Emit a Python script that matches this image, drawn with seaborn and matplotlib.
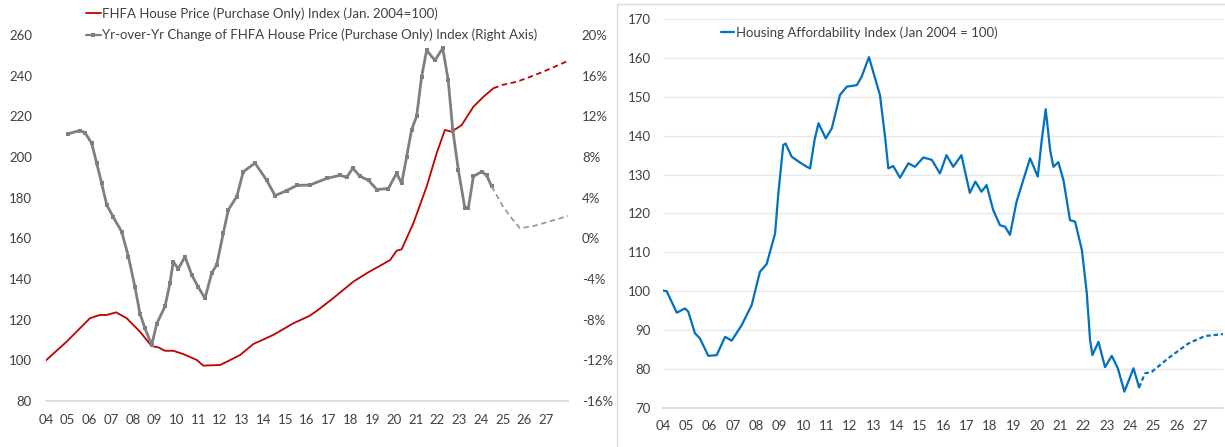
import matplotlib
matplotlib.use("Agg")
import matplotlib.pyplot as plt
import seaborn as sns
import pandas as pd
from matplotlib.lines import Line2D

# ---------------- data ----------------
hpi_year = [2004.0, 2004.95, 2006.02, 2006.48, 2006.79, 2007.22, 2007.71, 2008.32, 2008.86,
            2009.16, 2009.47, 2009.85, 2010.31, 2010.93, 2011.23, 2012.0, 2012.31, 2012.92,
            2013.53, 2014.45, 2015.37, 2016.1, 2016.45, 2017.21, 2018.13, 2018.74, 2019.82,
            2020.12, 2020.35, 2020.89, 2021.5, 2021.96, 2022.34, 2022.65, 2023.11, 2023.65,
            2024.11, 2024.57]
hpi_value = [100.0, 109.2, 120.7, 122.3, 122.3, 123.6, 120.7, 114.1, 107.0,
             106.4, 104.7, 104.7, 103.1, 100.2, 97.4, 97.7, 99.3, 102.6,
             108.0, 112.5, 118.2, 121.8, 124.3, 130.6, 138.7, 142.8, 149.3,
             153.9, 154.6, 167.4, 185.4, 201.8, 213.3, 212.4, 215.7, 224.7,
             229.6, 233.8]
hpi_fc_year = [2024.57, 2025.0, 2025.64, 2026.41, 2027.2, 2028.0]
hpi_fc_value = [233.8, 235.5, 237.0, 240.0, 243.5, 247.3]

yoy_year = [2005.03, 2005.56, 2005.79, 2006.10, 2006.33, 2006.56, 2006.79, 2007.09, 2007.48,
            2007.79, 2008.09, 2008.32, 2008.55, 2008.86, 2009.09, 2009.47, 2009.70, 2009.85,
            2010.08, 2010.39, 2010.70, 2011.0, 2011.31, 2011.62, 2011.85, 2012.15, 2012.38,
            2012.77, 2013.07, 2013.61, 2014.15, 2014.53, 2015.07, 2015.53, 2016.14, 2016.91,
            2017.52, 2017.83, 2018.1, 2018.44, 2018.83, 2019.21, 2019.74, 2020.12, 2020.35,
            2020.58, 2020.81, 2021.04, 2021.27, 2021.5, 2021.88, 2022.24, 2022.49, 2022.70,
            2022.96, 2023.26, 2023.42, 2023.65, 2024.03, 2024.26, 2024.49]
yoy_value = [10.3, 10.6, 10.4, 9.35, 7.4, 5.4, 3.3, 2.1, 0.65,
             -1.8, -4.8, -7.4, -8.85, -10.5, -8.4, -6.7, -4.4, -2.3,
             -3.0, -1.8, -3.6, -4.8, -5.9, -3.4, -2.6, 0.5, 2.8,
             4.1, 6.55, 7.4, 5.7, 4.2, 4.7, 5.2, 5.25, 5.9,
             6.2, 6.0, 6.9, 6.1, 5.7, 4.8, 4.9, 6.4, 5.4,
             8.0, 10.7, 12.0, 15.9, 18.5, 17.5, 18.7, 15.6, 10.7,
             6.7, 2.95, 3.0, 6.1, 6.55, 6.2, 5.1]
yoy_fc_year = [2024.49, 2025.02, 2025.4, 2025.79, 2026.41, 2027.2, 2028.0]
yoy_fc_value = [5.1, 3.1, 2.0, 1.0, 1.2, 1.7, 2.2]

aff_year = [2004.0, 2004.16, 2004.59, 2004.94, 2005.08, 2005.37, 2005.58, 2005.94, 2006.30,
            2006.66, 2006.94, 2007.37, 2007.80, 2008.15, 2008.44, 2008.80, 2008.94, 2009.15,
            2009.25, 2009.51, 2009.87, 2010.16, 2010.30, 2010.49, 2010.66, 2010.97, 2011.23,
            2011.58, 2011.87, 2012.30, 2012.51, 2012.82, 2013.08, 2013.29, 2013.51, 2013.65,
            2013.86, 2014.15, 2014.51, 2014.79, 2015.15, 2015.51, 2015.86, 2016.14, 2016.43,
            2016.78, 2017.14, 2017.38, 2017.64, 2017.86, 2018.14, 2018.43, 2018.65, 2018.86,
            2019.14, 2019.43, 2019.72, 2020.05, 2020.22, 2020.39, 2020.58, 2020.72, 2020.93,
            2021.15, 2021.43, 2021.65, 2021.94, 2022.15, 2022.29, 2022.39, 2022.65, 2022.93,
            2023.22, 2023.48, 2023.76, 2024.15, 2024.39]
aff_value = [100.2, 100.0, 94.5, 95.6, 94.8, 89.2, 87.9, 83.4, 83.6,
             88.3, 87.3, 91.3, 96.5, 105.0, 107.0, 114.9, 125.2, 137.6,
             138.0, 134.6, 133.1, 132.0, 131.6, 138.9, 143.2, 139.3, 141.9,
             150.5, 152.6, 153.0, 155.2, 160.2, 154.8, 150.5, 139.7, 131.6,
             132.2, 129.2, 132.9, 132.0, 134.4, 133.8, 130.3, 135.0, 132.0,
             135.0, 125.3, 128.2, 125.6, 127.3, 120.9, 117.0, 116.6, 114.5,
             123.0, 128.6, 134.2, 129.5, 138.9, 146.8, 136.3, 132.0, 133.2,
             128.6, 118.3, 117.9, 110.6, 99.5, 87.5, 83.6, 87.0, 80.5,
             83.4, 80.2, 74.2, 80.2, 75.3]
aff_fc_year = [2024.39, 2024.64, 2024.93, 2025.64, 2026.50, 2027.21, 2028.0]
aff_fc_value = [75.3, 78.9, 79.3, 82.8, 86.6, 88.5, 89.0]

year_ticks = list(range(2004, 2028))
year_labels = [f"{y % 100:02d}" for y in year_ticks]
left_ticks = list(range(80, 261, 20))
right_ticks = list(range(-16, 21, 4))
aff_ticks = list(range(70, 171, 10))

label_hpi = "FHFA House Price (Purchase Only) Index (Jan. 2004=100)"
label_yoy = "Yr-over-Yr Change of FHFA House Price (Purchase Only) Index (Right Axis)"
label_aff = "Housing Affordability Index (Jan 2004 = 100)"

# ---------------- style ----------------
sns.set_theme(style="white")
plt.rcParams['font.family'] = ['Lato', 'DejaVu Sans']
RED = "#C00000"
GRAY = "#7F7F7F"
GRAY_FC = "#9A9A9A"
BLUE = "#0070C0"
TXT = "#404040"
AXC = "#D9D9D9"
FS = 9.5

W, H = 1225, 447
fig = plt.figure(figsize=(W / 100, H / 100), dpi=100)
fig.patch.set_facecolor("white")

# ---------------- left chart ----------------
ax = fig.add_axes([46 / W, (H - 401) / H, 522 / W, 366 / H])
ax2 = ax.twinx()

sns.lineplot(x=hpi_year, y=hpi_value, ax=ax, color=RED, linewidth=1.3)
sns.lineplot(x=hpi_fc_year, y=hpi_fc_value, ax=ax, color=RED, linewidth=1.3,
             linestyle=(0, (3, 2)))
sns.lineplot(x=yoy_year, y=yoy_value, ax=ax2, color=GRAY, linewidth=2.0,
             marker="s", markersize=3.2, markeredgewidth=0)
sns.lineplot(x=yoy_fc_year, y=yoy_fc_value, ax=ax2, color=GRAY_FC, linewidth=1.3,
             linestyle=(0, (3, 2)))

ax.set_xlim(2004, 2028)
ax.set_ylim(80, 260)
ax.set_yticks(left_ticks)
ax.set_yticklabels([str(v) for v in left_ticks])
ax.set_xticks(year_ticks)
ax.set_xticklabels(year_labels)
ax2.set_ylim(-16, 20)
ax2.set_yticks(right_ticks)
ax2.set_yticklabels([f"{v}%" for v in right_ticks])
for a in (ax, ax2):
    a.set_xlabel("")
    a.set_ylabel("")
    for s in a.spines.values():
        s.set_visible(False)
ax.spines["bottom"].set_visible(True)
ax.spines["bottom"].set_color(AXC)
ax.tick_params(axis="x", length=4, width=1, color=AXC, pad=5, labelsize=FS, labelcolor=TXT)
ax.tick_params(axis="y", length=0, pad=10, labelsize=FS, labelcolor=TXT)
ax2.tick_params(axis="y", length=0, pad=10, labelsize=FS, labelcolor=TXT)
ax.grid(False)
ax2.grid(False)

h_left = [Line2D([], [], color=RED, lw=1.3),
          Line2D([], [], color=GRAY, lw=1.6, marker="s", markersize=2.6, markeredgewidth=0)]
fig.legend(h_left, [label_hpi, label_yoy], loc="upper left",
           bbox_to_anchor=(86 / W, 1 - 7 / H), frameon=False, fontsize=FS,
           handlelength=1.1, handletextpad=0.15, labelspacing=0.7,
           borderaxespad=0, borderpad=0, labelcolor=TXT)

# ---------------- right chart ----------------
ax3 = fig.add_axes([663 / W, (H - 408) / H, 560.4 / W, 389 / H])
sns.lineplot(x=aff_year, y=aff_value, ax=ax3, color=BLUE, linewidth=1.6)
sns.lineplot(x=aff_fc_year, y=aff_fc_value, ax=ax3, color=BLUE, linewidth=1.6,
             linestyle=(0, (2, 1.3)))
ax3.set_xlim(2004, 2028)
ax3.set_ylim(70, 170)
ax3.set_yticks(aff_ticks)
ax3.set_yticklabels([str(v) for v in aff_ticks])
ax3.set_xticks(year_ticks)
ax3.set_xticklabels(year_labels)
ax3.set_xlabel("")
ax3.set_ylabel("")
for s in ax3.spines.values():
    s.set_visible(False)
ax3.spines["bottom"].set_visible(True)
ax3.spines["bottom"].set_color(AXC)
ax3.yaxis.grid(True, color="#E8E8E8", linewidth=1)
ax3.xaxis.grid(False)
ax3.set_axisbelow(True)
ax3.tick_params(axis="x", length=4, width=1, color=AXC, pad=5, labelsize=FS, labelcolor=TXT)
ax3.tick_params(axis="y", length=0, pad=9, labelsize=FS, labelcolor=TXT)

fig.legend([Line2D([], [], color=BLUE, lw=1.6)], [label_aff], loc="upper left",
           bbox_to_anchor=(721 / W, 1 - 26 / H), frameon=False, fontsize=FS,
           handlelength=1.0, handletextpad=0.15, borderaxespad=0, borderpad=0,
           labelcolor=TXT)

# border of the right chart
fig.add_artist(Line2D([617 / W, 1.0], [1 - 4 / H, 1 - 4 / H], transform=fig.transFigure,
                      color=AXC, lw=1))
fig.add_artist(Line2D([617 / W, 617 / W], [0, 1 - 4 / H], transform=fig.transFigure,
                      color=AXC, lw=1))

fig.savefig("out.png", dpi=100, facecolor="white")
